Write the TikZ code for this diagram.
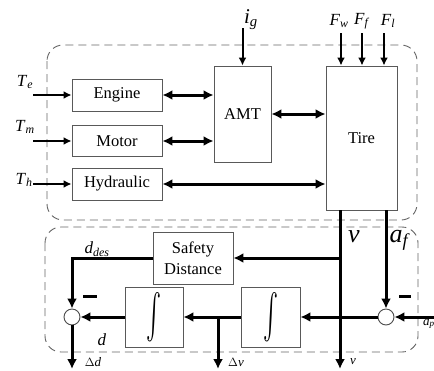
\documentclass[tikz,border=0pt]{standalone}
\usepackage{graphicx}
\usepackage{fontspec}
\setmainfont{Liberation Serif}
\usetikzlibrary{arrows.meta}
\newcommand\lbl[2]{\textit{#1}\textsubscript{\textit{#2}}}
\newcommand\intsym{\resizebox{15pt}{44pt}{$\int$}}
\begin{document}
\begin{tikzpicture}[x=1pt,y=-1pt,
  blk/.style={draw=black!65, line width=0.9pt, fill=white, inner sep=0pt, align=center, font=\fontsize{16.5}{21}\selectfont},
  sumc/.style={circle, draw=black!70, line width=0.9pt, fill=white, minimum size=16pt, inner sep=0pt},
  dashbox/.style={draw=black!60, line width=0.9pt, dash pattern=on 8pt off 5pt, rounded corners=16pt},
  thk/.style={line width=3pt, -{Latex[length=10pt,width=10pt]}},
  dblthk/.style={line width=3pt, {Latex[length=10pt,width=10pt]}-{Latex[length=10pt,width=10pt]}},
  thin/.style={line width=2pt, -{Latex[length=8pt,width=8pt]}},
  lab/.style={inner sep=0pt, font=\fontsize{17}{19}\selectfont},
  biglab/.style={inner sep=0pt, font=\fontsize{26}{28}\selectfont},
  smlab/.style={inner sep=0pt, font=\fontsize{13}{15}\selectfont},
  minus/.style={line width=3pt}
]
\useasboundingbox[fill=white] (0,0) rectangle (434,370);

% dashed subsystem frames
\draw[dashbox] (47,45) rectangle (417,220);
\draw[dashbox] (45,227) rectangle (418,352);

% blocks
\node[blk, minimum width=90pt, minimum height=32pt] (eng) at (117,95) {Engine};
\node[blk, minimum width=90pt, minimum height=31pt] (mot) at (117,141) {Motor};
\node[blk, minimum width=90pt, minimum height=32pt] (hyd) at (117,184) {Hydraulic};
\node[blk, minimum width=57pt, minimum height=96pt] (amt) at (242.5,114) {AMT};
\node[blk, minimum width=71pt, minimum height=144pt] (tire) at (361.5,138) {Tire};
\node[blk, minimum width=80pt, minimum height=52pt] (sd) at (193,258) {Safety\\Distance};
\node[blk, minimum width=58pt, minimum height=60pt] (i1) at (154,317) {\intsym};
\node[blk, minimum width=59pt, minimum height=60pt] (i2) at (270.5,317) {\intsym};
\node[sumc] (s1) at (72,317) {};
\node[sumc] (s2) at (386,317) {};

% top connectors
\draw[dblthk] (eng.east) -- (amt.west |- eng.east);
\draw[dblthk] (mot.east) -- (amt.west |- mot.east);
\draw[dblthk] (amt.east) -- (tire.west |- amt.east);
\draw[dblthk] (hyd.east) -- (tire.west |- hyd.east);

% inputs
\node[lab] (te) at (25,82) {\lbl{T}{e}};
\node[lab] (tm) at (25,127) {\lbl{T}{m}};
\node[lab] (th) at (24,180) {\lbl{T}{h}};
\coordinate (tein) at (33,95);
\coordinate (tmin) at (33,141);
\coordinate (thin) at (33,184);
\draw[thin] (tein) -- (eng.west);
\draw[thin] (tmin) -- (mot.west);
\draw[thin] (thin) -- (hyd.west);

\node[inner sep=0pt, font=\fontsize{21}{23}\selectfont] (ig) at (251,20) {\textit{i}\textsubscript{\textit{g}}};
\coordinate (igs) at (242.5,28);
\draw[thin] (igs) -- (amt.north);

\node[lab] (fw) at (339,21) {\lbl{F}{w}};
\node[lab] (ff) at (362,21) {\lbl{F}{f}};
\node[lab] (fl) at (388,21) {\lbl{F}{l}};
\coordinate (fws) at (341,33);
\coordinate (ffs) at (362,33);
\coordinate (fls) at (384,33);
\draw[thin] (fws) -- (fws |- tire.north);
\draw[thin] (ffs) -- (ffs |- tire.north);
\draw[thin] (fls) -- (fls |- tire.north);

% bottom connectors
\coordinate (vt) at (340,210);
\coordinate (vb) at (340,369);
\draw[thk] (vt) -- (vb);
\draw[thk] (vt |- sd.east) -- (sd.east);
\coordinate (aft) at (386,210);
\draw[thk] (aft) -- (s2.north);
\coordinate (apin) at (436,317);
\draw[thk] (apin) -- (s2.east);
\draw[thk] (s2.west) -- (i2.east);
\draw[thk] (i2.west) -- (i1.east);
\coordinate (dvb) at (218,369);
\draw[thk] (dvb |- i2.west) -- (dvb);
\draw[thk] (i1.west) -- (s1.east);
\draw[thk] (sd.west) -| (s1.north);
\coordinate (ddb) at (72,369);
\draw[thk] (s1.south) -- (ddb);

% minus signs
\draw[minus] (83,296) -- (97,296);
\draw[minus] (399,296) -- (411,296);

% bottom labels
\node[biglab] (vl) at (354,237) {\textit{v}};
\node[biglab] (afl) at (400,240) {\lbl{a}{f}};
\node[lab] (ddes) at (97,249) {\lbl{d}{des}};
\node[lab] (dl) at (102,340) {\textit{d}};
\node[smlab] (ddl) at (93,362) {$\Delta$\textit{d}};
\node[smlab] (dvl) at (236,362) {$\Delta$\textit{v}};
\node[smlab] (vbl) at (353,362) {\textit{v}};
\node[smlab] (apl) at (429,324) {\lbl{a}{p}};
\end{tikzpicture}
\end{document}
